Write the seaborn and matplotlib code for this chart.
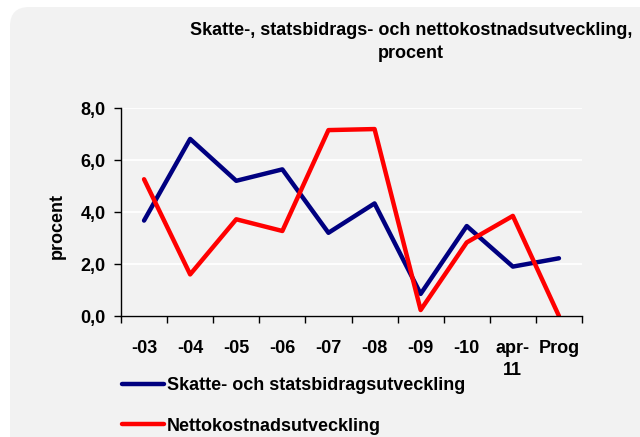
import numpy as np
import pandas as pd
import matplotlib
matplotlib.use("Agg")
import matplotlib.pyplot as plt
from matplotlib.patches import FancyBboxPatch
from matplotlib.lines import Line2D
import seaborn as sns

categories = ["-03", "-04", "-05", "-06", "-07", "-08", "-09", "-10", "apr-\n11", "Prog"]
skatte = [3.67, 6.81, 5.20, 5.64, 3.20, 4.33, 0.85, 3.46, 1.90, 2.22]
netto = [5.26, 1.60, 3.72, 3.27, 7.15, 7.19, 0.23, 2.83, 3.85, 0.00]
yticks = [0, 2, 4, 6, 8]
ytick_labels = ["0,0", "2,0", "4,0", "6,0", "8,0"]
name_skatte = "Skatte- och statsbidragsutveckling"
name_netto = "Nettokostnadsutveckling"
title = "Skatte-, statsbidrags- och nettokostnadsutveckling,\nprocent"

sns.set_theme(style="white")
plt.rcParams["font.family"] = ["Liberation Sans", "DejaVu Sans"]
plt.rcParams["font.weight"] = "bold"
plt.rcParams["text.color"] = "black"
plt.rcParams["xtick.color"] = "black"
plt.rcParams["ytick.color"] = "black"

FS = 13
fig = plt.figure(figsize=(6.4, 4.37), dpi=100)
fig.patch.set_facecolor("white")
panel = FancyBboxPatch((10 / 640, -0.1), 1.2, 1.1 - 7 / 437,
                       boxstyle="round,pad=0,rounding_size=0.03",
                       transform=fig.transFigure, facecolor="#f2f2f2",
                       edgecolor="none", zorder=-5, mutation_aspect=640 / 437)
fig.patches.append(panel)

ax = fig.add_axes([121 / 640, 1 - 316 / 437, (582 - 121) / 640, (316 - 108) / 437])
ax.set_zorder(2)
ax.set_facecolor("#f2f2f2")

df = pd.DataFrame({
    "cat": categories * 2,
    "val": skatte + netto,
    "serie": [name_skatte] * len(categories) + [name_netto] * len(categories),
})
sns.lineplot(data=df, x="cat", y="val", hue="serie", sort=False, ax=ax,
             palette={name_skatte: "#000080", name_netto: "#ff0000"},
             linewidth=3.2, legend=False)

ax.set_xlim(-0.5, len(categories) - 0.5)
ax.set_ylim(0, 8)
ax.set_yticks(yticks)
ax.set_yticklabels(ytick_labels, fontsize=FS, fontweight="bold")
ax.grid(axis="y", color="white", linewidth=1.3)
ax.set_axisbelow(True)

ax.set_xticks(range(len(categories)))
ax.set_xticklabels(categories, fontsize=FS, fontweight="bold", linespacing=1.45, va="top")
ax.set_xticks(np.arange(-0.5, len(categories), 1), minor=True)
ax.tick_params(axis="x", which="major", length=0, pad=17)
ax.tick_params(axis="x", which="minor", length=5, width=1, color="black", direction="out", bottom=True)
ax.tick_params(axis="y", length=5, width=1, color="black", direction="out", left=True, pad=6)
ax.set_xlabel("")
ax.set_ylabel("")

for s in ["top", "right"]:
    ax.spines[s].set_visible(False)
for s in ["left", "bottom"]:
    ax.spines[s].set_color("black")
    ax.spines[s].set_linewidth(1)

fig.text(57 / 640, 1 - 226 / 437, "procent", rotation=90, ha="center", va="center",
         fontsize=FS, fontweight="bold")
fig.text(411 / 640, 1 - 22 / 437, title, ha="center", va="top", fontsize=FS,
         fontweight="bold", linespacing=1.45)

handles = [Line2D([], [], color="#000080", lw=3.2), Line2D([], [], color="#ff0000", lw=3.2)]
leg = fig.legend(handles, [name_skatte, name_netto], loc="upper left",
                 bbox_to_anchor=(106 / 640, 1 - 361 / 437), frameon=False,
                 handlelength=2.3, handletextpad=0.18, labelspacing=1.3,
                 prop={"weight": "bold", "size": FS})

fig.savefig("out.png", dpi=100, facecolor=fig.get_facecolor())
